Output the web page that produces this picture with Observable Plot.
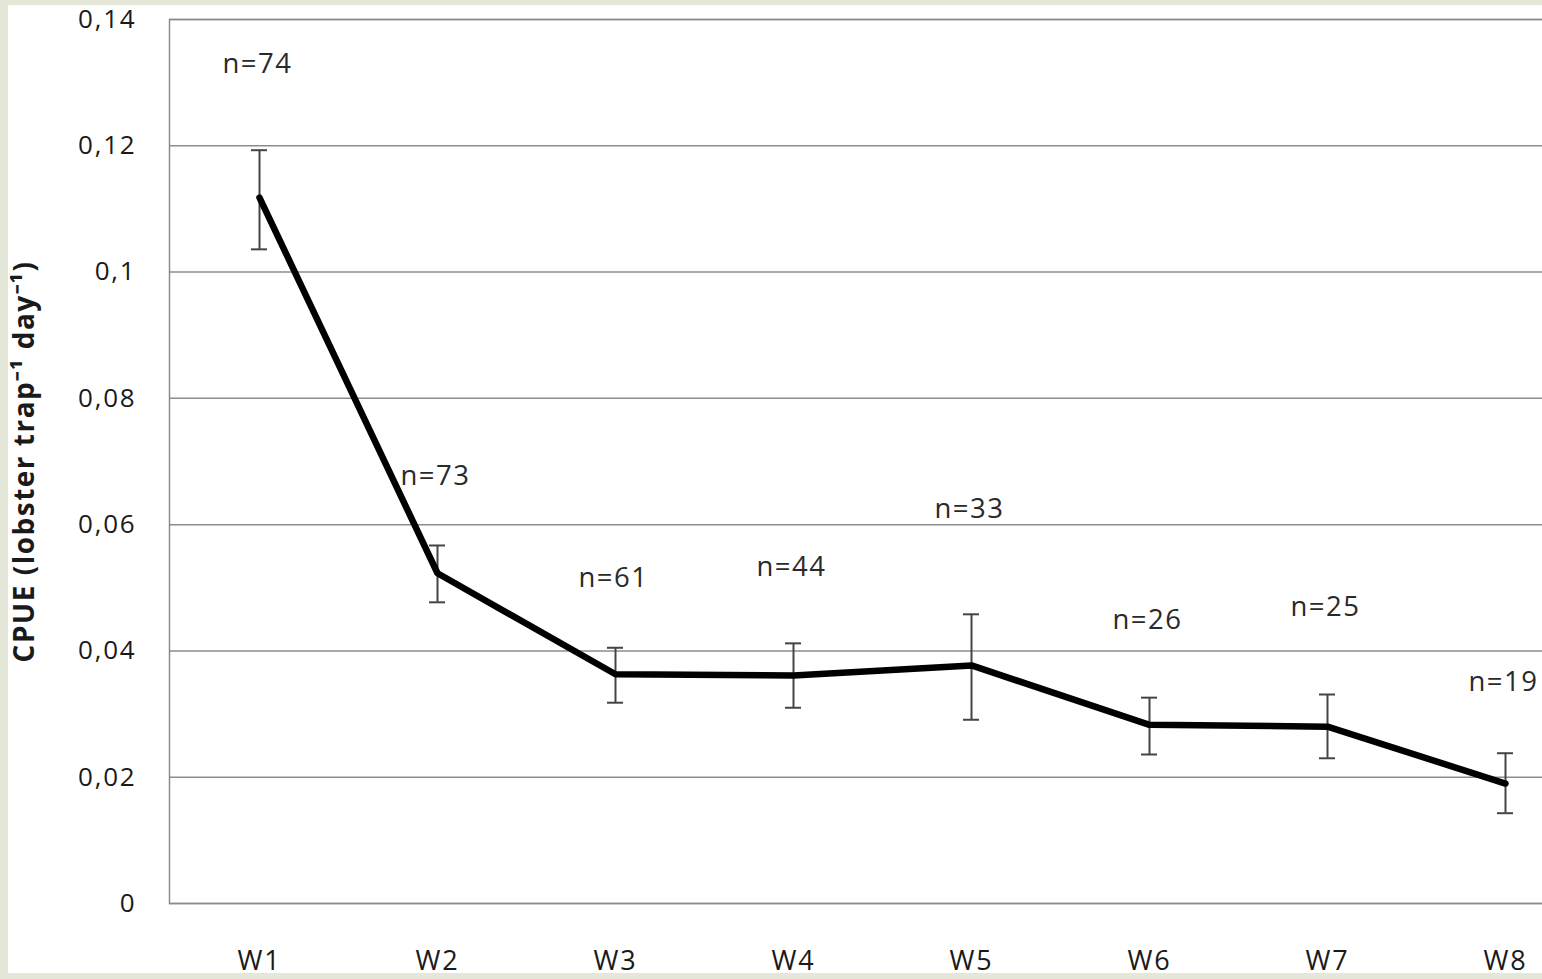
<!DOCTYPE html>
<html>
<head>
<meta charset="utf-8">
<script src="https://cdn.jsdelivr.net/npm/d3@7"></script>
<script src="https://cdn.jsdelivr.net/npm/@observablehq/plot@0.6"></script>
<style>
  html, body { margin: 0; padding: 0; background: #e5e8d8; overflow: hidden; width: 1542px; height: 979px; }
  #panel { position: absolute; left: 8px; top: 5px; width: 1534px; height: 968px; background: #fff; }
  #panel svg { position: absolute; left: -8px; top: -5px; max-width: none !important; width: 1595px !important; height: 1000px !important; }
</style>
</head>
<body>
<div id="panel"></div>
<script>
// ---- data ----
const weeks = ["W1", "W2", "W3", "W4", "W5", "W6", "W7", "W8"];
const cpue  = [0.1118, 0.0523, 0.0363, 0.0361, 0.0377, 0.0283, 0.0280, 0.0190];
const errHi = [0.1193, 0.0567, 0.0405, 0.0412, 0.0458, 0.0326, 0.0331, 0.0238];
const errLo = [0.1036, 0.0477, 0.0318, 0.0310, 0.0291, 0.0236, 0.0230, 0.0143];
const nCounts = [74, 73, 61, 44, 33, 26, 25, 19];
const nLabelY = [0.1330, 0.0676, 0.0515, 0.0532, 0.0624, 0.0448, 0.0469, 0.0350];
const yTicks = [0, 0.02, 0.04, 0.06, 0.08, 0.10, 0.12, 0.14];
const yLabel = "CPUE (lobster trap\u207B\u00B9 day\u207B\u00B9)";

const rows = weeks.map((w, i) => ({
  week: w, cpue: cpue[i], hi: errHi[i], lo: errLo[i],
  n: "n=" + nCounts[i], ny: nLabelY[i]
}));

const fmt = d => d === 0 ? "0" : String(+d.toFixed(2)).replace(".", ",");

const chart = Plot.plot({
  width: 1595,
  height: 1000,
  marginLeft: 169,
  marginRight: 0,
  marginTop: 19,
  marginBottom: 97,
  style: { fontFamily: "'Open Sans', sans-serif", background: "transparent", color: "#1a1a1a", maxWidth: "none" },
  x: { type: "band", domain: weeks, padding: 0 },
  y: { domain: [0, 0.14] },
  marks: [
    Plot.gridY(yTicks, { stroke: "#8c8c8c", strokeOpacity: 1, strokeWidth: 1.5 }),
    Plot.frame({ stroke: "#8c8c8c", strokeWidth: 1.5 }),
    Plot.axisY({
      ticks: yTicks, tickSize: 0, tickPadding: 33, tickFormat: fmt,
      fontSize: 26, fill: "#1a1a1a",
      label: yLabel, labelAnchor: "center", labelArrow: "none", labelOffset: 155
    }),
    Plot.axisX({ tickSize: 0, tickPadding: 47, fontSize: 27, fill: "#1a1a1a", label: null }),
    Plot.ruleX(rows, { x: "week", y1: "lo", y2: "hi", stroke: "#444", strokeWidth: 2 }),
    Plot.tickY(rows, { x: "week", y: "hi", stroke: "#444", strokeWidth: 2, insetLeft: 81, insetRight: 81 }),
    Plot.tickY(rows, { x: "week", y: "lo", stroke: "#444", strokeWidth: 2, insetLeft: 81, insetRight: 81 }),
    Plot.line(rows, { x: "week", y: "cpue", stroke: "#000", strokeWidth: 6.5, strokeLinejoin: "miter" }),
    Plot.text(rows, { x: "week", y: "ny", text: "n", fontSize: 27.5, fill: "#2a2a2a", dx: -2 })
  ]
});

// text styling: wider letter spacing, bold axis label
chart.querySelectorAll("text").forEach(t => {
  if (t.textContent.startsWith("CPUE")) {
    t.setAttribute("font-weight", "bold");
    t.setAttribute("font-size", "28");
    t.style.letterSpacing = "1.5px";
  } else if (t.textContent.startsWith("n=")) {
    t.style.letterSpacing = "1.5px";
  } else {
    t.style.letterSpacing = "1.8px";
  }
});
document.getElementById("panel").appendChild(chart);
</script>
</body>
</html>
